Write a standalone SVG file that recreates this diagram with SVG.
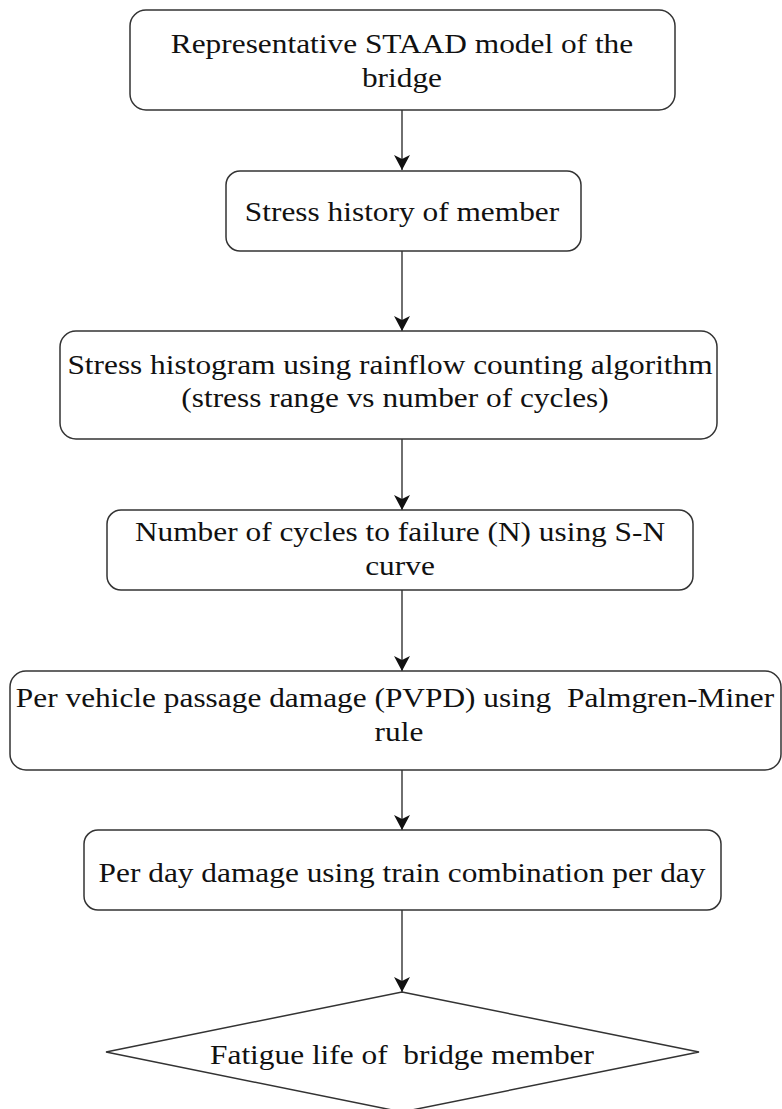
<svg xmlns="http://www.w3.org/2000/svg" width="782" height="1109" viewBox="0 0 782 1109">
<style>
.box{fill:#fff;stroke:#333;stroke-width:1.5}
.t{font-family:"Liberation Serif","Times New Roman",serif;font-size:28px;fill:#111;text-anchor:middle}
.c{stroke:#333;stroke-width:1.4;fill:none}
</style>
<defs>
<marker id="ah" markerUnits="userSpaceOnUse" markerWidth="16" markerHeight="18" viewBox="0 0 16 18" refX="15" refY="9" orient="auto">
<path d="M0,1 L15,9 L0,17 L4,9 Z" fill="#111"/>
</marker>
</defs>
<rect width="782" height="1109" fill="#fff"/>
<g id="connectors">
<line class="c" x1="402" y1="110" x2="402" y2="170" marker-end="url(#ah)"/>
<line class="c" x1="402" y1="251" x2="402" y2="331" marker-end="url(#ah)"/>
<line class="c" x1="402" y1="439" x2="402" y2="510" marker-end="url(#ah)"/>
<line class="c" x1="402" y1="590" x2="402" y2="671" marker-end="url(#ah)"/>
<line class="c" x1="402" y1="770" x2="402" y2="830" marker-end="url(#ah)"/>
<line class="c" x1="402" y1="910" x2="402" y2="992" marker-end="url(#ah)"/>
</g>
<g id="n1">
<rect class="box" x="130" y="10" width="545" height="100" rx="16"/>
<text class="t" transform="matrix(1.12 0 0 1 402 53)">Representative STAAD model of the</text>
<text class="t" transform="matrix(1.12 0 0 1 402 87)">bridge</text>
</g>
<g id="n2">
<rect class="box" x="226" y="171" width="355" height="80" rx="14"/>
<text class="t" transform="matrix(1.12 0 0 1 402 221)">Stress history of member</text>
</g>
<g id="n3">
<rect class="box" x="60" y="331" width="657" height="108" rx="16"/>
<text class="t" transform="matrix(1.12 0 0 1 390 374)">Stress histogram using rainflow counting algorithm</text>
<text class="t" transform="matrix(1.12 0 0 1 395 407)">(stress range vs number of cycles)</text>
</g>
<g id="n4">
<rect class="box" x="107" y="510" width="586" height="80" rx="14"/>
<text class="t" transform="matrix(1.12 0 0 1 400 541)">Number of cycles to failure (N) using S-N</text>
<text class="t" transform="matrix(1.12 0 0 1 400 575)">curve</text>
</g>
<g id="n5">
<rect class="box" x="10" y="671" width="771" height="99" rx="16"/>
<text class="t" transform="matrix(1.12 0 0 1 395 707)" xml:space="preserve">Per vehicle passage damage (PVPD) using  Palmgren-Miner</text>
<text class="t" transform="matrix(1.12 0 0 1 399 741)">rule</text>
</g>
<g id="n6">
<rect class="box" x="84" y="830" width="637" height="80" rx="14"/>
<text class="t" transform="matrix(1.12 0 0 1 402 882)">Per day damage using train combination per day</text>
</g>
<g id="n7">
<polygon class="box" points="402,992 699,1052 402,1112 106,1052"/>
<text class="t" transform="matrix(1.12 0 0 1 402 1064)" xml:space="preserve">Fatigue life of  bridge member</text>
</g>
</svg>
